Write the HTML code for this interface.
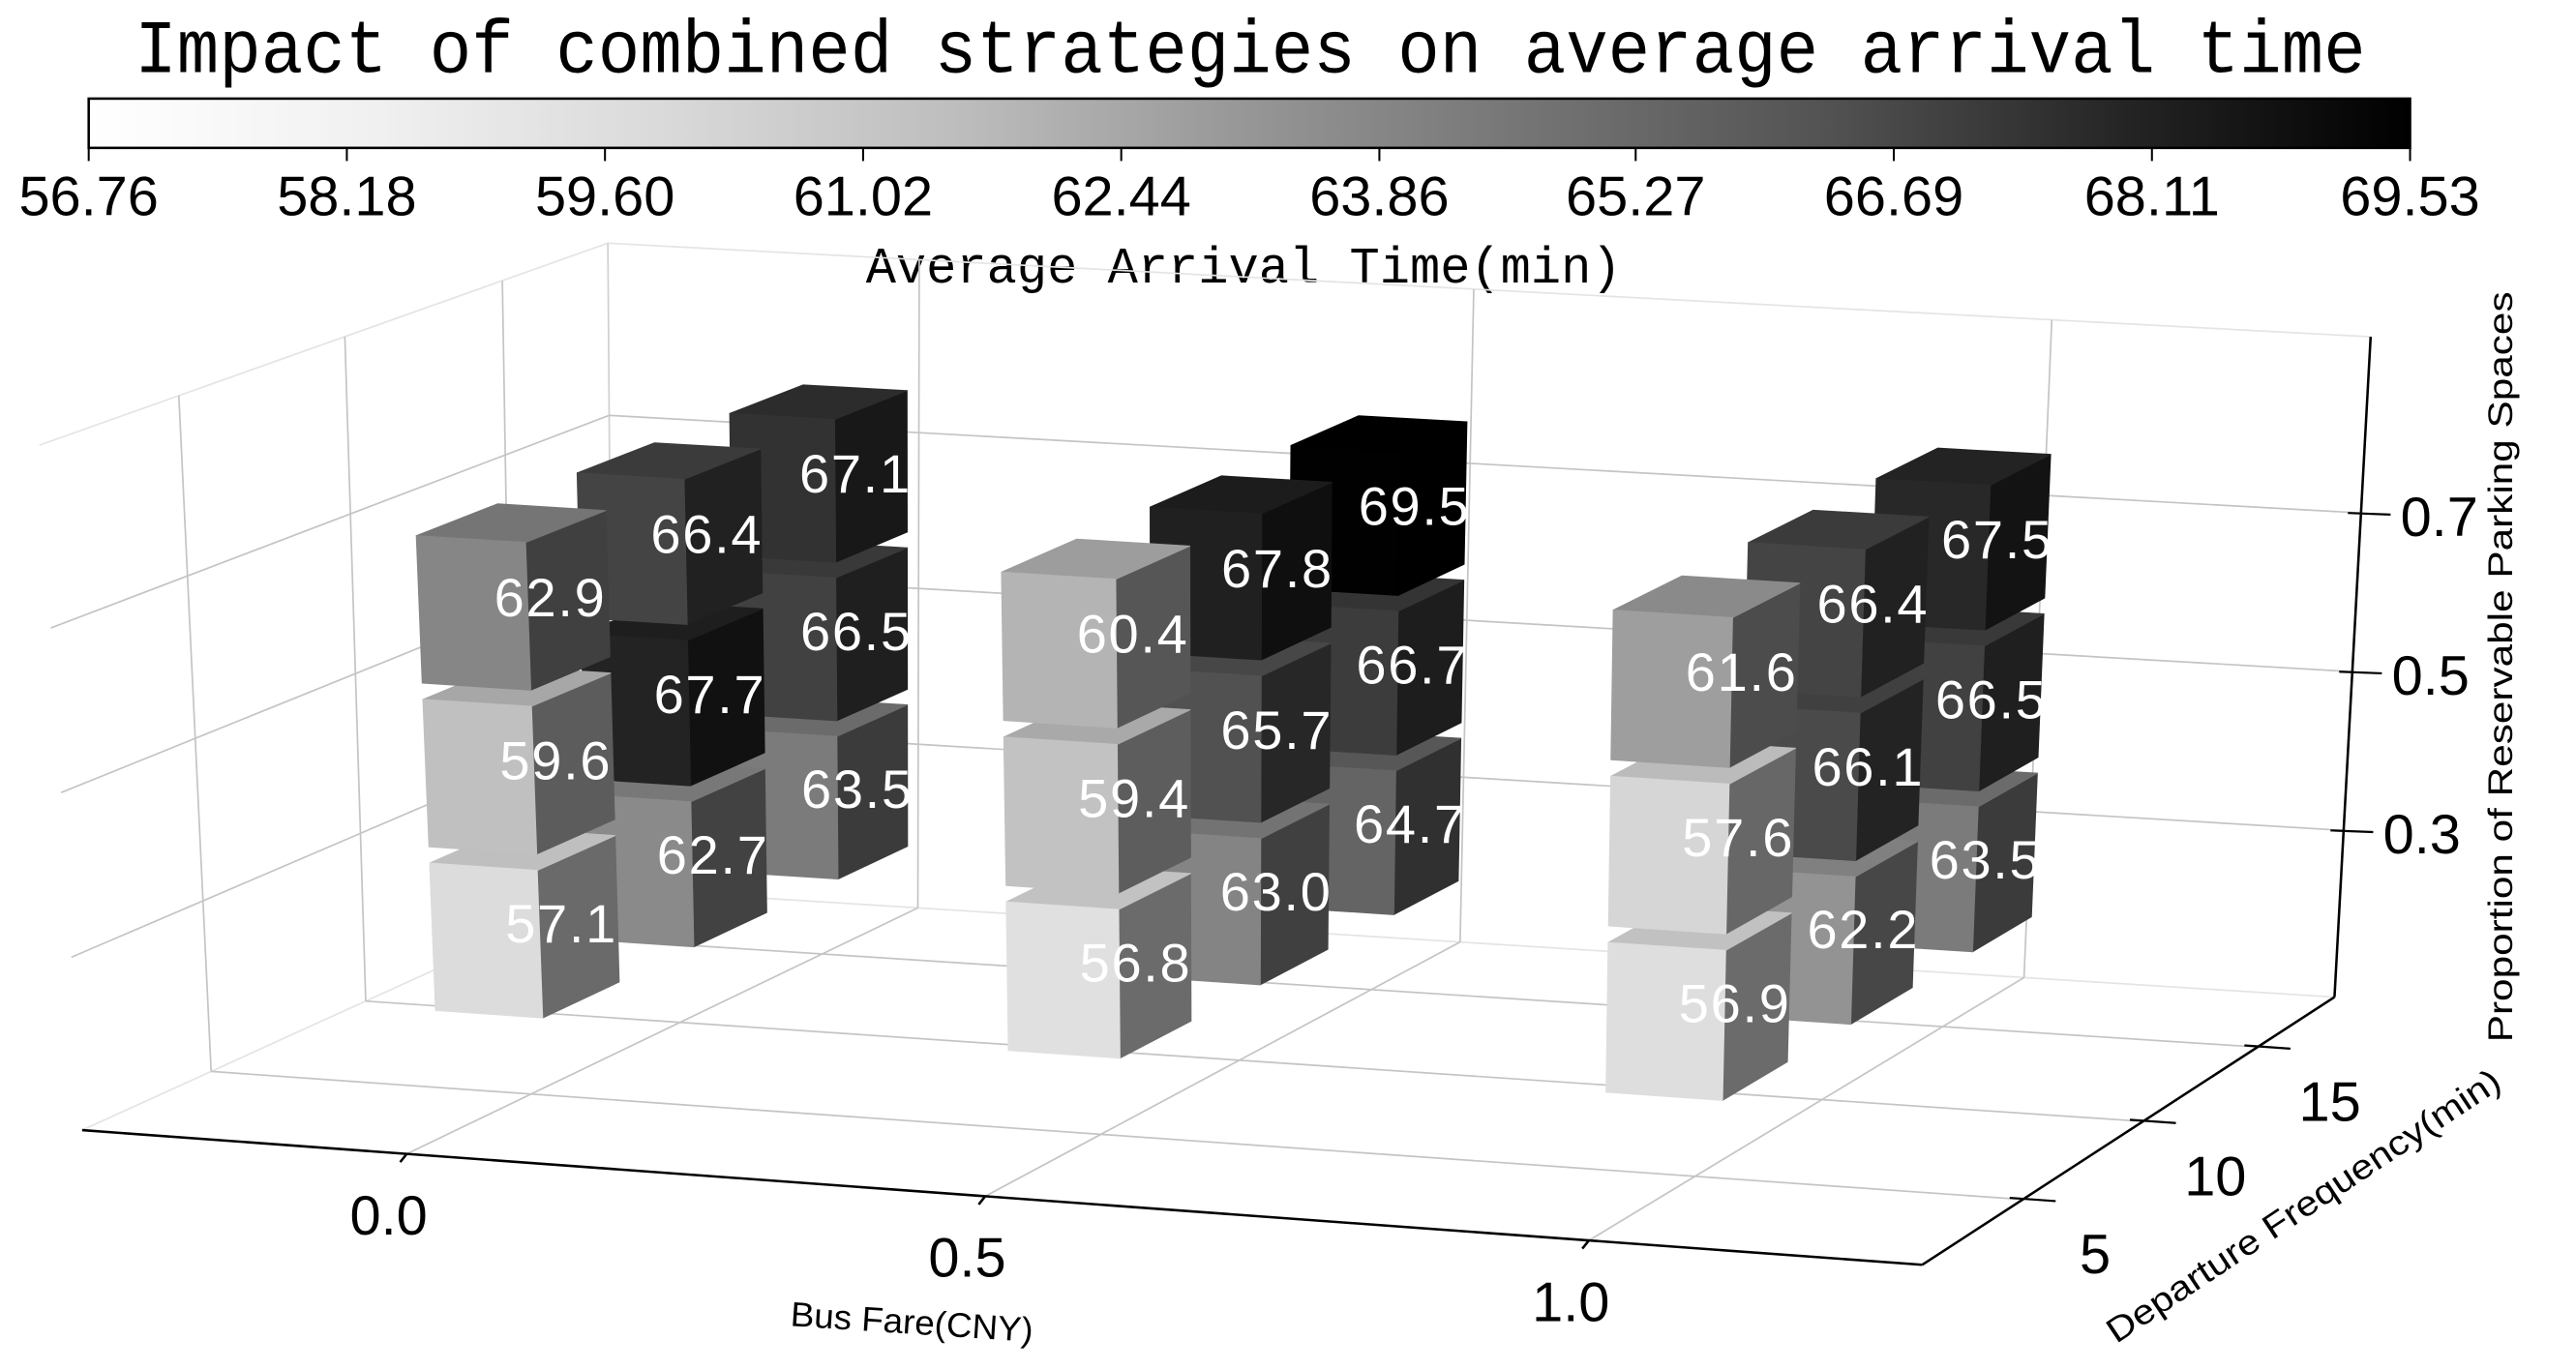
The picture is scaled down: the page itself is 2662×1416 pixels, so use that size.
<!DOCTYPE html>
<html><head><meta charset="utf-8"><style>
html,body{margin:0;padding:0;background:#fff;}
svg{display:block;}
text{font-family:"Liberation Sans","DejaVu Sans",sans-serif;}
.mono{font-family:"Liberation Mono","DejaVu Sans Mono",monospace;}
</style></head><body>
<svg id="chart" width="2662" height="1416" viewBox="0 0 1568 834" xmlns="http://www.w3.org/2000/svg">
<defs>
<linearGradient id="greys" x1="0" x2="1" y1="0" y2="0">
<stop offset="0" stop-color="#ffffff"/><stop offset="0.125" stop-color="#f0f0f0"/><stop offset="0.25" stop-color="#d9d9d9"/><stop offset="0.375" stop-color="#bdbdbd"/><stop offset="0.5" stop-color="#969696"/><stop offset="0.625" stop-color="#737373"/><stop offset="0.75" stop-color="#525252"/><stop offset="0.875" stop-color="#252525"/><stop offset="1" stop-color="#000000"/>
</linearGradient>
</defs>
<text class="mono" x="761" y="44" font-size="46" text-anchor="middle" textLength="1358" lengthAdjust="spacingAndGlyphs">Impact of combined strategies on average arrival time</text>
<g id="colorbar"></g>
<text class="mono" x="757" y="172" font-size="31" text-anchor="middle" textLength="460" lengthAdjust="spacingAndGlyphs">Average Arrival Time(min)</text>
<g id="grid"></g>
<g id="axes"></g>
<g id="bars"></g>
<text x="555" y="812" font-size="21" text-anchor="middle" transform="rotate(3.8 555 806)" textLength="148" lengthAdjust="spacingAndGlyphs">Bus Fare(CNY)</text>
<text x="1406" y="740" font-size="21" text-anchor="middle" transform="rotate(-33.6 1406 740)" textLength="283" lengthAdjust="spacingAndGlyphs">Departure Frequency(min)</text>
<text x="1529" y="406" font-size="21" text-anchor="middle" transform="rotate(-90 1529 406)" textLength="457" lengthAdjust="spacingAndGlyphs">Proportion of Reservable Parking Spaces</text>
</svg>
<script>
// ---- data ----
const fareValues = [0, 0.5, 1.0];
const freqValues = [5, 10, 15];
const propValues = [0.3, 0.5, 0.7];
// each array: freq 5 (prop .3,.5,.7), freq 10 (...), freq 15 (...)
const timeFare0 = [57.1, 59.6, 62.9, 62.7, 67.7, 66.4, 63.5, 66.5, 67.1];
const timeFare05 = [56.8, 59.4, 60.4, 63.0, 65.7, 67.8, 64.7, 66.7, 69.5];
const timeFare1 = [56.9, 57.6, 61.6, 62.2, 66.1, 66.4, 63.5, 66.5, 67.5];
const colorbarTicks = [56.76, 58.18, 59.60, 61.02, 62.44, 63.86, 65.27, 66.69, 68.11, 69.53];
const fareTickLabels = ["0.0", "0.5", "1.0"];
const freqTickLabels = ["5", "10", "15"];
const propTickLabels = ["0.3", "0.5", "0.7"];

const NS = "http://www.w3.org/2000/svg";
const vmin = 56.76, vmax = 69.53;
const fareLim = [-0.29, 1.267], freqLim = [1, 18.5], zLim = [0.09, 0.922];
const dxBar = 0.095, dyBar = 2.5, dzBar = 0.18;

// floor and top quads (FL, FR, BR, BL)
const bottomQuad = [[50,688],[1170,770],[1421,607],[373,541]];
const topQuad = [[24,271],[1183,343],[1443,205],[370,148]];
function homography(q){
  const [x0,y0]=q[0],[x1,y1]=q[1],[x2,y2]=q[2],[x3,y3]=q[3];
  const dx1=x1-x2,dx2=x3-x2,dx3=x0-x1+x2-x3,dy1=y1-y2,dy2=y3-y2,dy3=y0-y1+y2-y3;
  const den=dx1*dy2-dx2*dy1;
  const g=(dx3*dy2-dx2*dy3)/den, h=(dx1*dy3-dx3*dy1)/den;
  const a=x1-x0+g*x1,b=x3-x0+h*x3,c=x0,d=y1-y0+g*y1,e=y3-y0+h*y3,f=y0;
  return (u,v)=>{const w=g*u+h*v+1;return [(a*u+b*v+c)/w,(d*u+e*v+f)/w];};
}
const H0=homography(bottomQuad), H1=homography(topQuad);
function proj(fare,freq,z){
  const s=(fare-fareLim[0])/(fareLim[1]-fareLim[0]);
  const t=(freq-freqLim[0])/(freqLim[1]-freqLim[0]);
  const w=(z-zLim[0])/(zLim[1]-zLim[0]);
  const b=H0(s,t),u=H1(s,t);
  return [b[0]+w*(u[0]-b[0]), b[1]+w*(u[1]-b[1])];
}
function mk(tag,attrs,parent){const el=document.createElementNS(NS,tag);for(const k in attrs)el.setAttribute(k,attrs[k]);parent.appendChild(el);return el;}
function line(p,q,stroke,sw,parent,name){
  const el=mk('line',{x1:p[0],y1:p[1],x2:q[0],y2:q[1],stroke:stroke,'stroke-width':sw},parent);
  
  
  return el;
}
// front face colour vs value (observed shading)
const shadeVals = [56.76, 57.1, 59.6, 60.4, 62.7, 66.4, 67.8, 69.53];
const shadeGray = [224, 220, 192, 180, 138, 68, 32, 0];
function frontGray(v){
  if(v<=shadeVals[0])return shadeGray[0];
  for(let i=1;i<shadeVals.length;i++){if(v<=shadeVals[i]){const f=(v-shadeVals[i-1])/(shadeVals[i]-shadeVals[i-1]);return shadeGray[i-1]+f*(shadeGray[i]-shadeGray[i-1]);}}
  return 0;
}
function g2c(g){g=Math.max(0,Math.min(255,Math.round(g)));return `rgb(${g},${g},${g})`;}

// ---- colorbar ----
const cb=document.getElementById('colorbar');
const cbX0=54,cbX1=1467,cbY0=60,cbY1=90;
const cbRect=mk('rect',{x:cbX0,y:cbY0,width:cbX1-cbX0,height:cbY1-cbY0,fill:'url(#greys)',stroke:'#000','stroke-width':1.5},cb);


colorbarTicks.forEach(v=>{
  const x=cbX0+(v-vmin)/(vmax-vmin)*(cbX1-cbX0);
  line([x,cbY1],[x,cbY1+8],'#000',1.2,cb,'colorbar-tick');
  const t=mk('text',{x:x,y:131,'font-size':34,'text-anchor':'middle'},cb);
  t.textContent=v.toFixed(2);
  
  
});

// ---- grid ----
const grid=document.getElementById('grid');
const GC='#c4c4c4', EC='#e4e4e4';
line(proj(fareLim[0],freqLim[0],zLim[1]),proj(fareLim[0],freqLim[1],zLim[1]),EC,1,grid,'left-pane-top-edge');
line(proj(fareLim[0],freqLim[1],zLim[1]),proj(fareLim[1],freqLim[1],zLim[1]),EC,1,grid,'back-pane-top-edge');
line(proj(fareLim[0],freqLim[1],zLim[0]),proj(fareLim[0],freqLim[1],zLim[1]),'#d0d0d0',1,grid,'back-left-edge');
line(proj(fareLim[0],freqLim[0],zLim[0]),proj(fareLim[0],freqLim[1],zLim[0]),EC,1,grid,'floor-left-edge');
line(proj(fareLim[0],freqLim[1],zLim[0]),proj(fareLim[1],freqLim[1],zLim[0]),EC,1,grid,'floor-back-edge');
fareValues.forEach(f=>{
  line(proj(f,freqLim[0],zLim[0]),proj(f,freqLim[1],zLim[0]),GC,1,grid,'floor-gridline-fare');
  line(proj(f,freqLim[1],zLim[0]),proj(f,freqLim[1],zLim[1]),GC,1,grid,'back-gridline-fare');
});
freqValues.forEach(q=>{
  line(proj(fareLim[0],q,zLim[0]),proj(fareLim[1],q,zLim[0]),GC,1,grid,'floor-gridline-freq');
  line(proj(fareLim[0],q,zLim[0]),proj(fareLim[0],q,zLim[1]),GC,1,grid,'left-gridline-freq');
});
propValues.forEach(z=>{
  line(proj(fareLim[0],freqLim[0],z),proj(fareLim[0],freqLim[1],z),GC,1,grid,'left-gridline-z');
  line(proj(fareLim[0],freqLim[1],z),proj(fareLim[1],freqLim[1],z),GC,1,grid,'back-gridline-z');
});

// ---- axes ----
const ax=document.getElementById('axes');
line(proj(fareLim[0],freqLim[0],zLim[0]),proj(fareLim[1],freqLim[0],zLim[0]),'#000',1.5,ax,'x-axis-line');
line(proj(fareLim[1],freqLim[0],zLim[0]),proj(fareLim[1],freqLim[1],zLim[0]),'#000',1.5,ax,'y-axis-line');
line(proj(fareLim[1],freqLim[1],zLim[0]),proj(fareLim[1],freqLim[1],zLim[1]),'#000',1.5,ax,'z-axis-line');
fareValues.forEach((f,i)=>{
  const p=proj(f,freqLim[0],zLim[0]);
  line(p,[p[0]-4,p[1]+5],'#000',1.5,ax,'x-tick');
  const t=mk('text',{x:p[0]-11,y:p[1]+49,'font-size':34,'text-anchor':'middle'},ax);
  t.textContent=fareTickLabels[i];
  
  
});
freqValues.forEach((q,i)=>{
  const p=proj(fareLim[1],q,zLim[0]);
  line([p[0]-8,p[1]-1],[p[0]+20,p[1]+1],'#000',1.3,ax,'y-tick');
  const t=mk('text',{x:p[0]+44,y:p[1]+45,'font-size':34,'text-anchor':'middle'},ax);
  t.textContent=freqTickLabels[i];
  
  
});
propValues.forEach((z,i)=>{
  const p=proj(fareLim[1],freqLim[1],z);
  line([p[0]-8,p[1]],[p[0]+18,p[1]+1],'#000',1.3,ax,'z-tick');
  const t=mk('text',{x:p[0]+24,y:p[1]+14,'font-size':34,'text-anchor':'start'},ax);
  t.textContent=propTickLabels[i];
  
  
});

// ---- bars ----
const bars=document.getElementById('bars');
const fareSeries=[timeFare0,timeFare05,timeFare1];
const cubes=[];
fareValues.forEach((f,i)=>freqValues.forEach((q,j)=>propValues.forEach((z,k)=>{
  cubes.push({f:f,q:q,z:z,v:fareSeries[i][j*3+k],i:i,j:j,k:k});
})));
cubes.sort((a,b)=>(b.j-a.j)||(a.i-b.i)||(a.k-b.k));
function poly(pts,fill,parent,name){
  const el=mk('polygon',{points:pts.map(p=>p[0].toFixed(1)+','+p[1].toFixed(1)).join(' '),fill:fill,stroke:fill,'stroke-width':0.6,'stroke-linejoin':'round'},parent);
  
  
}
cubes.forEach(c=>{
  const g=mk('g',{},bars);
  
  
  const s0=c.f-dxBar/2,s1=c.f+dxBar/2,t0=c.q-dyBar/2,t1=c.q+dyBar/2,z0=c.z-dzBar/2,z1=c.z+dzBar/2;
  const fg=frontGray(c.v);
  poly([proj(s1,t0,z0),proj(s1,t1,z0),proj(s1,t1,z1),proj(s1,t0,z1)],g2c(fg*0.48),g,'bar-side-face');
  poly([proj(s0,t0,z1),proj(s1,t0,z1),proj(s1,t1,z1),proj(s0,t1,z1)],g2c(fg*0.87),g,'bar-top-face');
  poly([proj(s0,t0,z0),proj(s1,t0,z0),proj(s1,t0,z1),proj(s0,t0,z1)],g2c(fg),g,'bar-front-face');
  const p=proj(c.f,c.q,c.z);
  const t=mk('text',{x:p[0]+22,y:p[1]+12,'font-size':33,'text-anchor':'middle',fill:'#fff','letter-spacing':'1'},g);
  t.textContent=c.v.toFixed(1);
  
  
});
</script>
</body></html>
